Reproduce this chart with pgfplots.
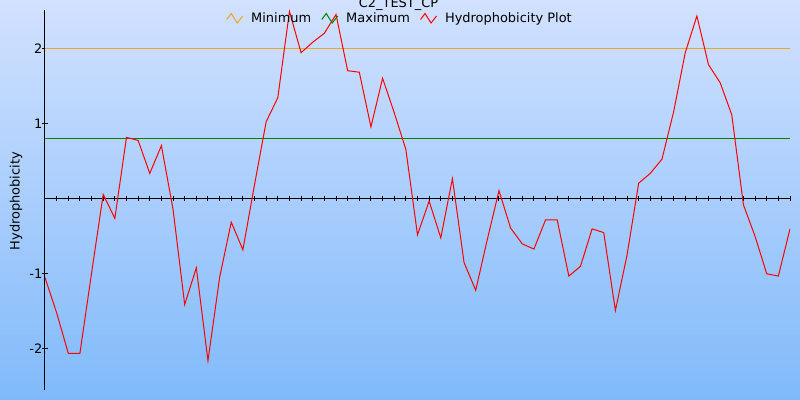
\documentclass[border=0pt]{standalone}
\usepackage{pgfplots}
\usepackage{pgfplotstable}
\pgfplotsset{compat=1.18}
\usepackage{fontspec}
\setmainfont{DejaVu Sans}
\definecolor{bgtop}{RGB}{210,225,255}
\definecolor{bgbot}{RGB}{128,186,250}
\definecolor{minc}{RGB}{235,165,40}
\definecolor{maxc}{RGB}{0,128,0}
\pgfplotstableread{
k v
0 -1.05
1 -1.52
2 -2.06
3 -2.06
4 -0.99
5 0.06
6 -0.26
7 0.82
8 0.78
9 0.34
10 0.71
11 -0.14
12 -1.41
13 -0.92
14 -2.16
15 -1.05
16 -0.31
17 -0.68
18 0.19
19 1.03
20 1.35
21 2.50
22 1.95
23 2.09
24 2.21
25 2.46
26 1.71
27 1.69
28 0.96
29 1.61
30 1.15
31 0.66
32 -0.48
33 -0.03
34 -0.52
35 0.27
36 -0.85
37 -1.22
38 -0.54
39 0.11
40 -0.39
41 -0.60
42 -0.67
43 -0.28
44 -0.28
45 -1.03
46 -0.90
47 -0.40
48 -0.45
49 -1.49
50 -0.75
51 0.21
52 0.34
53 0.53
54 1.16
55 1.95
56 2.44
57 1.79
58 1.55
59 1.12
60 -0.08
61 -0.50
62 -1.00
63 -1.03
64 -0.40
}\hydro
\begin{document}
\begin{tikzpicture}
\useasboundingbox (0,0) rectangle (800bp,400bp);
\shade[top color=bgtop, bottom color=bgbot] (0,0) rectangle (800bp,400bp);
\begin{axis}[
  at={(45bp,10bp)}, anchor=south west, scale only axis,
  width=745bp, height=380bp,
  xmin=0, xmax=64, ymin=-2.55, ymax=2.52,
  axis x line=middle, axis y line=left,
  axis line style={-, line width=1bp, black},
  xtick={0,...,64}, xticklabels={},
  ytick={-2,-1,1,2}, yticklabels={-2,-1,1,2},
  tick align=center, major tick length=5bp,
  tick style={black, line width=1bp},
  font=\fontsize{13}{15}\selectfont,
  yticklabel style={inner sep=0bp, font=\fontsize{13}{15}\selectfont},
  title={C2\_TEST\_CP},
  title style={at={(0.4745,0.992)}, anchor=base, yshift=0pt, inner sep=0pt, font=\fontsize{13}{15}\selectfont},
  ylabel={Hydrophobicity},
  ylabel style={at={(axis description cs:-0.039,0.497)}, anchor=center, inner sep=0pt, font=\fontsize{13}{15}\selectfont},
  legend columns=3,
  legend style={at={(0.4765,0.9776)}, anchor=center, draw=none, fill=none,
    font=\fontsize{13}{15}\selectfont,
    /tikz/every odd column/.append style={column sep=6bp},
    /tikz/every even column/.append style={column sep=8bp}},
  legend image code/.code={\draw[#1] (0bp,-1bp)--(4.5bp,5bp)--(10.5bp,-4.5bp)--(16bp,2.5bp);},
]
\addplot[minc, line width=1bp] coordinates {(0,2) (64,2)};
\addlegendentry{Minimum}
\addplot[maxc, line width=1bp] coordinates {(0,0.8) (64,0.8)};
\addlegendentry{Maximum}
\addplot[red, line width=1bp] table[x=k, y=v] {\hydro};
\addlegendentry{Hydrophobicity Plot}
\end{axis}
\end{tikzpicture}
\end{document}
